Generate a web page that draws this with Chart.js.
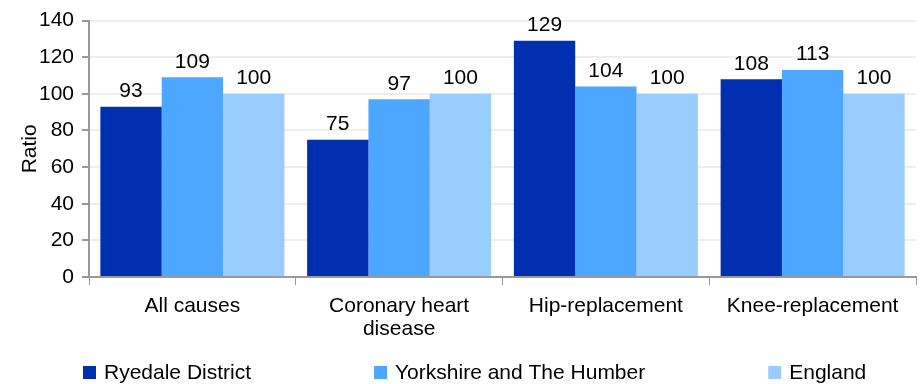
<!DOCTYPE html>
<html>
<head>
<meta charset="utf-8">
<script src="https://cdn.jsdelivr.net/npm/chart.js@4/dist/chart.umd.min.js"></script>
<style>
  html, body { margin: 0; padding: 0; background: #fff; }
  #wrap { width: 921px; height: 384px; }
</style>
</head>
<body>
<div id="wrap"><canvas id="ratioChart"></canvas></div>
<script>
const categories = ['All causes', ['Coronary heart', 'disease'], 'Hip-replacement', 'Knee-replacement'];
const seriesNames = ['Ryedale District', 'Yorkshire and The Humber', 'England'];
const ryedale = [93, 75, 129, 108];
const yorkshire = [109, 97, 104, 113];
const england = [100, 100, 100, 100];
const yTicks = [0, 20, 40, 60, 80, 100, 120, 140];

const colours = ['#0030b0', '#4da6ff', '#99ccff'];
const FONT = 'Liberation Sans, Arial, sans-serif';
const SIZE = 21;

// value above each bar
const valueLabels = {
    id: 'valueLabels',
    afterDatasetsDraw(chart) {
        const ctx = chart.ctx;
        ctx.save();
        ctx.font = SIZE + 'px ' + FONT;
        ctx.fillStyle = '#000';
        ctx.textAlign = 'center';
        ctx.textBaseline = 'bottom';
        chart.data.datasets.forEach((ds, i) => {
            chart.getDatasetMeta(i).data.forEach((bar, j) => {
                ctx.fillText(ds.data[j], bar.x, bar.y - 5);
            });
        });
        ctx.restore();
    }
};

// legend spread along the bottom
const bottomLegend = {
    id: 'bottomLegend',
    afterDraw(chart) {
        const ctx = chart.ctx;
        ctx.save();
        ctx.font = SIZE + 'px ' + FONT;
        ctx.textBaseline = 'middle';
        const y = chart.height - 12;
        let x = chart.chartArea.left - 6;
        chart.data.datasets.forEach((ds) => {
            ctx.fillStyle = ds.backgroundColor;
            ctx.fillRect(x, y - 6, 13, 13);
            ctx.fillStyle = '#000';
            ctx.fillText(ds.label, x + 21, y + 1);
            x += 21 + ctx.measureText(ds.label).width + 123;
        });
        ctx.restore();
    }
};

const ctx = document.getElementById('ratioChart').getContext('2d');
new Chart(ctx, {
    type: 'bar',
    data: {
        labels: categories,
        datasets: [
            { label: seriesNames[0], data: ryedale, backgroundColor: colours[0] },
            { label: seriesNames[1], data: yorkshire, backgroundColor: colours[1] },
            { label: seriesNames[2], data: england, backgroundColor: colours[2] }
        ]
    },
    options: {
        responsive: true,
        maintainAspectRatio: false,
        animation: false,
        datasets: { bar: { categoryPercentage: 0.89, barPercentage: 1.0 } },
        layout: { padding: { top: 6, right: 5, bottom: 38, left: 0 } },
        plugins: {
            legend: { display: false },
            tooltip: { enabled: false }
        },
        scales: {
            x: {
                grid: { display: true, drawOnChartArea: false, offset: true, tickLength: 8, tickColor: '#999' },
                border: { color: '#999', width: 2 },
                ticks: { color: '#000', font: { family: FONT, size: SIZE, lineHeight: 1.1 }, padding: 10, maxRotation: 0 },
                afterFit(scale) { scale.height = 69; }
            },
            y: {
                min: 0,
                max: 140,
                afterBuildTicks(scale) { scale.ticks = yTicks.map(v => ({ value: v })); },
                grid: { color: '#eeeeee', lineWidth: 2, tickLength: 7, tickColor: '#999' },
                border: { color: '#999', width: 2 },
                ticks: { color: '#000', font: { family: FONT, size: SIZE }, padding: 8 },
                title: { display: true, text: 'Ratio', color: '#000', font: { family: FONT, size: SIZE }, padding: { top: 18, bottom: 0 } },
                afterFit(scale) { scale.width = 89; }
            }
        }
    },
    plugins: [valueLabels, bottomLegend]
});
</script>
</body>
</html>
